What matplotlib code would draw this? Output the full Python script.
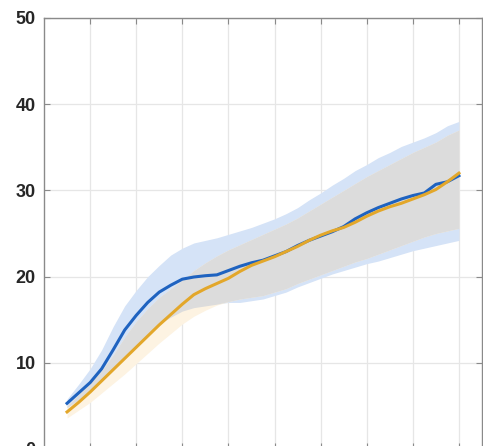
import numpy as np
import matplotlib.pyplot as plt

# sample positions along x
x = [5, 7.5, 10, 12.5, 15, 17.5, 20, 22.5, 25, 27.5, 30, 32.5, 35, 37.5, 40, 42.5, 45,
     47.5, 50, 52.5, 55, 57.5, 60, 62.5, 65, 67.5, 70, 72.5, 75, 77.5, 80, 82.5, 85, 87.5, 90]

blue_mean = [5.3, 6.5, 7.7, 9.3, 11.5, 13.8, 15.5, 17.0, 18.2, 19.0, 19.7, 19.95, 20.1, 20.2, 20.7, 21.2, 21.6,
             21.9, 22.4, 22.9, 23.6, 24.2, 24.7, 25.2, 25.8, 26.7, 27.4, 28.0, 28.5, 29.0, 29.4, 29.7, 30.7, 31.0, 31.7]
blue_upper = [5.8, 7.5, 9.3, 11.5, 14.2, 16.6, 18.4, 20.0, 21.3, 22.5, 23.3, 23.9, 24.2, 24.5, 24.9, 25.3, 25.7,
              26.2, 26.7, 27.3, 28.0, 28.9, 29.7, 30.6, 31.4, 32.3, 33.0, 33.8, 34.4, 35.1, 35.6, 36.1, 36.7, 37.5, 38.0]
blue_lower = [4.8, 5.7, 6.7, 7.9, 9.2, 10.7, 12.0, 13.3, 14.5, 15.3, 16.0, 16.4, 16.6, 16.8, 17.0, 17.0, 17.2,
              17.4, 17.8, 18.2, 18.8, 19.3, 19.8, 20.3, 20.7, 21.1, 21.5, 21.8, 22.2, 22.6, 23.0, 23.3, 23.6, 23.9, 24.2]

orange_mean = [4.3, 5.4, 6.6, 7.9, 9.2, 10.5, 11.8, 13.1, 14.4, 15.6, 16.8, 17.9, 18.6, 19.2, 19.8, 20.6, 21.3,
               21.8, 22.3, 22.9, 23.5, 24.2, 24.8, 25.3, 25.7, 26.3, 27.0, 27.6, 28.1, 28.5, 29.0, 29.5, 30.1, 31.0, 32.0]
orange_upper = [5.0, 6.3, 7.6, 9.1, 10.9, 13.0, 14.8, 16.3, 17.6, 18.6, 19.6, 20.7, 21.6, 22.4, 23.1, 23.7, 24.3,
                24.9, 25.5, 26.1, 26.8, 27.6, 28.4, 29.2, 30.0, 30.8, 31.6, 32.3, 33.0, 33.7, 34.4, 35.0, 35.6, 36.4, 37.0]
orange_lower = [3.6, 4.5, 5.4, 6.5, 7.6, 8.7, 9.9, 11.1, 12.3, 13.4, 14.5, 15.4, 16.1, 16.7, 17.1, 17.4, 17.6,
                17.8, 18.2, 18.6, 19.2, 19.7, 20.2, 20.7, 21.2, 21.7, 22.1, 22.6, 23.1, 23.6, 24.1, 24.6, 25.0, 25.3, 25.6]

x_ticks = [10, 20, 30, 40, 50, 60, 70, 80, 90]
y_ticks = [0, 10, 20, 30, 40, 50]

plt.rcParams['font.family'] = ['Liberation Sans', 'DejaVu Sans']

fig = plt.figure(figsize=(4.83, 4.46), dpi=100)
ax = fig.add_axes([0.0911, -0.0067, 0.9068, 0.9664])

xa = np.array(x)
bl, bu = np.array(blue_lower), np.array(blue_upper)
ol, ou = np.array(orange_lower), np.array(orange_upper)

# shaded bands: blue-only, orange-only and the grey overlap
ax.fill_between(xa, bl, bu, color='#d5e3f7', lw=0, zorder=1)
ax.fill_between(xa, ol, ou, color='#fdf3e2', lw=0, zorder=1)
lo = np.maximum(bl, ol)
hi = np.minimum(bu, ou)
ax.fill_between(xa, lo, hi, where=hi > lo, interpolate=True, color='#dcdcdc', lw=0, zorder=2)

ax.plot(x, blue_mean, color='#1f63c0', lw=2.2, zorder=4)
ax.plot(x, orange_mean, color='#e3a72a', lw=2.2, zorder=5)

ax.set_xlim(0, 95)
ax.set_ylim(0, 50)
ax.set_xticks(x_ticks)
ax.set_xticklabels([])
ax.set_yticks(y_ticks)
ax.set_yticklabels([str(t) for t in y_ticks], fontsize=13, fontweight='bold', color='#262626')
ax.tick_params(direction='in', length=4, width=0.8, color='#8a8a8a', right=True, top=True, pad=6)
ax.grid(True, color='#e6e6e6', lw=0.9, zorder=0)
ax.set_axisbelow(True)
for s in ax.spines.values():
    s.set_color('#8a8a8a')
    s.set_linewidth(1.0)

fig.savefig('out.png', dpi=100)
